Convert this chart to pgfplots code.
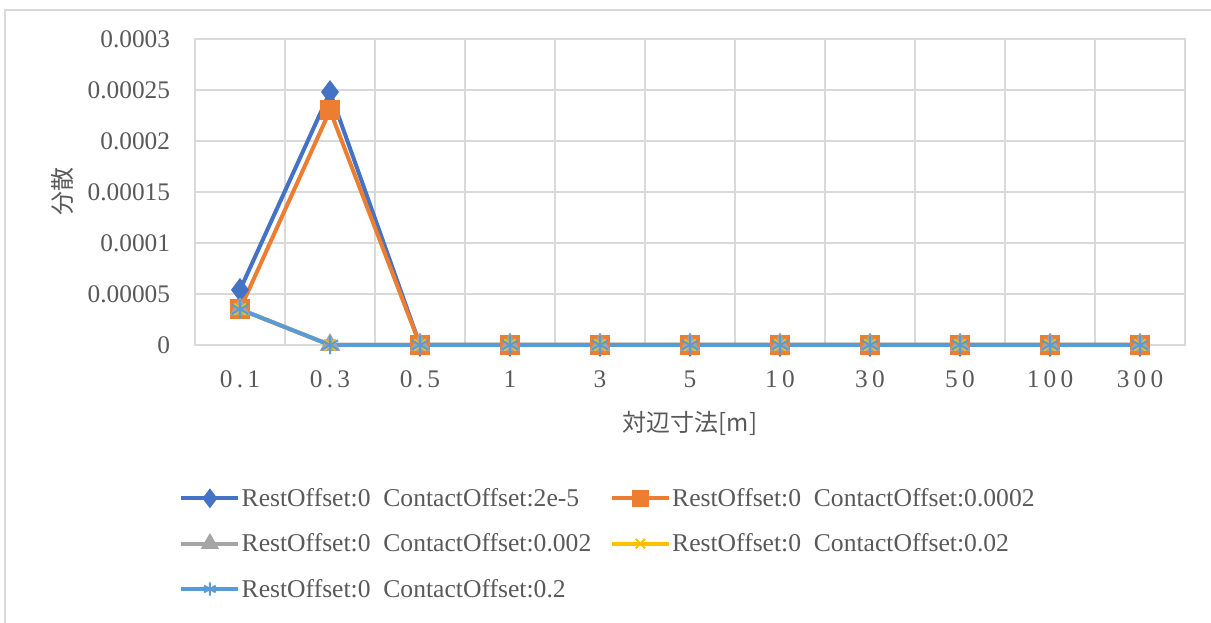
\documentclass[border=0pt]{standalone}
\usepackage{fontspec}
\setmainfont{Liberation Serif}
\newfontfamily\jp{Noto Sans CJK JP}
\usepackage{pgfplots}
\pgfplotsset{compat=1.18}
\definecolor{sA}{HTML}{4472C4}
\definecolor{sB}{HTML}{ED7D31}
\definecolor{sC}{HTML}{A5A5A5}
\definecolor{sD}{HTML}{FFC000}
\definecolor{sE}{HTML}{5B9BD5}
\definecolor{txt}{HTML}{595959}
\definecolor{gridc}{HTML}{D9D9D9}
\begin{document}
\begin{tikzpicture}
\useasboundingbox (0,0) rectangle (908.25pt,467.25pt);
\draw[gridc, line width=1.2pt] (3.75pt,0pt) -- (3.75pt,459.75pt) -- (908.25pt,459.75pt);
\begin{axis}[
  at={(146.25pt,208.5pt)}, anchor=south west,
  scale only axis, width=742.5pt, height=229.5pt,
  xmin=-0.5, xmax=10.5, ymin=0, ymax=0.0003,
  xtick={0,1,2,3,4,5,6,7,8,9,10},
  xticklabels={0\,.\,1,0\,.\,3,0\,.\,5,1,3,5,1\,0,3\,0,5\,0,1\,0\,0,3\,0\,0},
  minor xtick={-0.5,0.5,1.5,2.5,3.5,4.5,5.5,6.5,7.5,8.5,9.5,10.5},
  xminorgrids,
  ytick={0,0.00005,0.0001,0.00015,0.0002,0.00025,0.0003},
  yticklabels={0,0.00005,0.0001,0.00015,0.0002,0.00025,0.0003},
  ymajorgrids,
  major tick length=0pt, minor tick length=0pt,
  grid style={gridc, line width=0.9pt},
  minor grid style={gridc, line width=0.9pt},
  axis line style={gridc, line width=0.9pt},
  tick style={draw=none},
  scaled y ticks=false,
  ticklabel style={font=\fontsize{19}{22}\selectfont, text=txt, inner sep=0pt},
  xticklabel style={anchor=north, yshift=-19pt},
  yticklabel style={anchor=east, xshift=-18.5pt},
  xlabel={\jp 対辺寸法[m]},
  ylabel={\jp 分散},
  label style={font=\fontsize{18}{21}\selectfont, text=txt},
  xlabel style={at={(axis description cs:0.5,-0.255)}, anchor=center},
  ylabel style={at={(axis description cs:-0.134,0.5)}, anchor=center},
  clip=false,
  legend columns=2,
  legend style={at={(axis description cs:-0.02,-0.45)}, anchor=north west,
    draw=none, fill=none, font=\fontsize{19.2}{22}\selectfont, text=txt,
    /tikz/every even column/.append style={column sep=13pt},
    row sep=15pt,
    nodes={inner xsep=1pt, inner ysep=2pt}},
  legend cell align=left,
  legend image code/.code={
    \draw[mark repeat=2, mark phase=2, mark size=5pt] plot coordinates {(0cm,0cm) (0.75cm,0cm) (1.5cm,0cm)};
  },
  every axis plot/.append style={line width=3pt, mark options={solid}},
]
\addplot[sA, mark=diamond*, mark size=6.5pt] coordinates {(0,0.000054) (1,0.000248) (2,0) (3,0) (4,0) (5,0) (6,0) (7,0) (8,0) (9,0) (10,0)};
\addlegendentry{RestOffset:0\ \ ContactOffset:2e-5}
\addplot[sB, mark=square*, mark size=6pt] coordinates {(0,0.000035) (1,0.00023) (2,0) (3,0) (4,0) (5,0) (6,0) (7,0) (8,0) (9,0) (10,0)};
\addlegendentry{RestOffset:0\ \ ContactOffset:0.0002}
\addplot[sC, mark=triangle*, mark size=6pt] coordinates {(0,0.000035) (1,0) (2,0) (3,0) (4,0) (5,0) (6,0) (7,0) (8,0) (9,0) (10,0)};
\addlegendentry{RestOffset:0\ \ ContactOffset:0.002}
\addplot[sD, mark=x, mark size=6pt, mark options={line width=1.5pt}] coordinates {(0,0.000035) (1,0) (2,0) (3,0) (4,0) (5,0) (6,0) (7,0) (8,0) (9,0) (10,0)};
\addlegendentry{RestOffset:0\ \ ContactOffset:0.02}
\addplot[sE, mark=asterisk, mark size=7pt, mark options={line width=1.5pt}] coordinates {(0,0.000035) (1,0) (2,0) (3,0) (4,0) (5,0) (6,0) (7,0) (8,0) (9,0) (10,0)};
\addlegendentry{RestOffset:0\ \ ContactOffset:0.2}
\end{axis}
\end{tikzpicture}
\end{document}
